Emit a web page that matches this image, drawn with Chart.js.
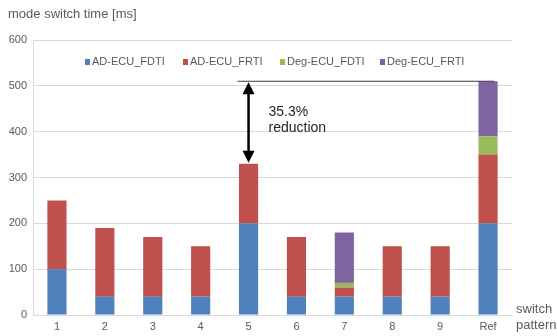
<!DOCTYPE html>
<html>
<head>
<meta charset="utf-8">
<script src="https://cdn.jsdelivr.net/npm/chart.js@4.4.1/dist/chart.umd.min.js"></script>
<style>
  html, body { margin: 0; padding: 0; background: #fff; }
  #wrap { width: 557px; height: 336px; position: relative; }
</style>
</head>
<body>
<div id="wrap"><canvas id="modeChart"></canvas></div>
<script>
const patterns = ['1', '2', '3', '4', '5', '6', '7', '8', '9', 'Ref'];
const adEcuFdti = [100, 40, 40, 40, 200, 40, 40, 40, 40, 200];
const adEcuFrti = [150, 150, 130, 110, 130, 130, 20, 110, 110, 150];
const degEcuFdti = [0, 0, 0, 0, 0, 0, 10, 0, 0, 40];
const degEcuFrti = [0, 0, 0, 0, 0, 0, 110, 0, 0, 120];
const yTicks = [0, 100, 200, 300, 400, 500, 600];
const refLevel = 510;
const improvedLevel = 330;

const FONT = '"Liberation Sans", Arial, sans-serif';
const GREY = '#595959';

// legend sits inside the plot, so it is drawn by hand
const legendInside = {
  id: 'legendInside',
  afterDraw(chart) {
    const ctx = chart.ctx;
    const starts = [85, 183, 280, 380];
    ctx.save();
    ctx.font = '11px ' + FONT;
    ctx.textBaseline = 'middle';
    ctx.textAlign = 'left';
    chart.data.datasets.forEach((ds, i) => {
      ctx.fillStyle = ds.backgroundColor;
      ctx.fillRect(starts[i], 59, 5, 6);
      ctx.fillStyle = GREY;
      ctx.fillText(ds.label, starts[i] + 7, 62);
    });
    ctx.restore();
  }
};

// title, axis name and the 35.3% arrow
const annotate = {
  id: 'annotate',
  afterDatasetsDraw(chart) {
    const ctx = chart.ctx;
    const x = chart.scales.x, y = chart.scales.y;
    const xa = x.getPixelForValue(4);
    const xr = x.getPixelForValue(9);
    const yTop = y.getPixelForValue(refLevel);
    const yBot = y.getPixelForValue(improvedLevel);
    ctx.save();
    ctx.strokeStyle = '#3a3a3a';
    ctx.lineWidth = 1.2;
    ctx.beginPath();
    ctx.moveTo(xa - 11, yTop);
    ctx.lineTo(xr + 6, yTop);
    ctx.stroke();

    ctx.strokeStyle = '#000';
    ctx.fillStyle = '#000';
    ctx.lineWidth = 2.5;
    ctx.beginPath();
    ctx.moveTo(xa, yTop + 10);
    ctx.lineTo(xa, yBot - 10);
    ctx.stroke();
    ctx.beginPath();
    ctx.moveTo(xa, yTop + 1);
    ctx.lineTo(xa - 6, yTop + 13);
    ctx.lineTo(xa + 6, yTop + 13);
    ctx.closePath();
    ctx.fill();
    ctx.beginPath();
    ctx.moveTo(xa, yBot - 1);
    ctx.lineTo(xa - 6, yBot - 13);
    ctx.lineTo(xa + 6, yBot - 13);
    ctx.closePath();
    ctx.fill();

    ctx.fillStyle = '#262626';
    ctx.font = '14px ' + FONT;
    ctx.textBaseline = 'middle';
    ctx.textAlign = 'left';
    ctx.fillText('35.3%', xa + 20, 112);
    ctx.fillText('reduction', xa + 20, 128);

    ctx.fillStyle = GREY;
    ctx.font = '13px ' + FONT;
    ctx.fillText('mode switch time [ms]', 8, 14);
    ctx.fillText('switch', 516, 309);
    ctx.fillText('pattern', 516, 325);
    ctx.restore();
  }
};

const modeChart = new Chart(document.getElementById('modeChart'), {
  type: 'bar',
  data: {
    labels: patterns,
    datasets: [
      { label: 'AD-ECU_FDTI', data: adEcuFdti, backgroundColor: '#4F81BD' },
      { label: 'AD-ECU_FRTI', data: adEcuFrti, backgroundColor: '#C0504D' },
      { label: 'Deg-ECU_FDTI', data: degEcuFdti, backgroundColor: '#9BBB59' },
      { label: 'Deg-ECU_FRTI', data: degEcuFrti, backgroundColor: '#8064A2' }
    ]
  },
  options: {
    responsive: true,
    maintainAspectRatio: false,
    animation: false,
    datasets: { bar: { barPercentage: 0.8, categoryPercentage: 0.5 } },
    layout: { padding: { top: 40, right: 45, bottom: 0, left: 0 } },
    plugins: {
      title: { display: false },
      tooltip: { enabled: false },
      legend: { display: false }
    },
    scales: {
      x: {
        stacked: true,
        afterFit(s) { s.height = 21; },
        grid: { display: false, drawTicks: false },
        border: { color: '#D9D9D9' },
        ticks: { color: GREY, font: { size: 11, family: FONT }, padding: 5 }
      },
      y: {
        stacked: true,
        min: 0, max: 600,
        afterFit(s) { s.width = 33; },
        afterBuildTicks(s) { s.ticks = yTicks.map(v => ({ value: v })); },
        grid: { color: '#D9D9D9', drawTicks: false },
        border: { color: '#D9D9D9' },
        ticks: { color: GREY, font: { size: 11, family: FONT }, padding: 6 }
      }
    }
  },
  plugins: [annotate, legendInside]
});
</script>
</body>
</html>
